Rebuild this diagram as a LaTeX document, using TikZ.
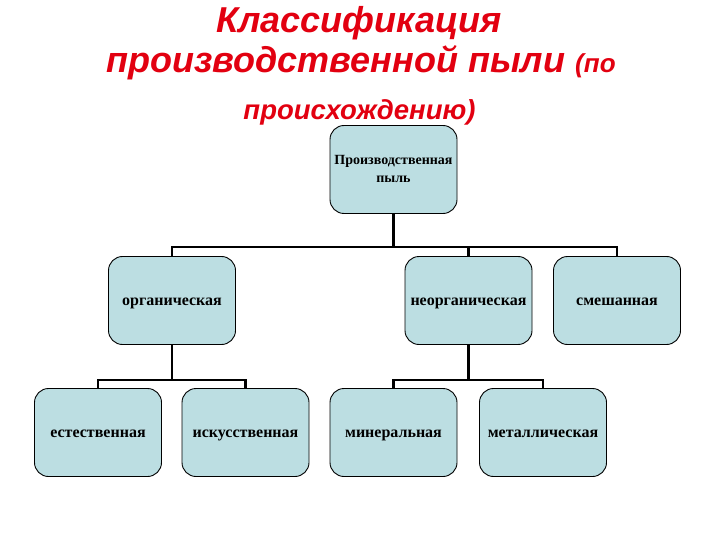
\documentclass[tikz,border=0pt]{standalone}
\usepackage{fontspec}
\setmainfont{Liberation Serif}
\newfontfamily\titlefont{Liberation Sans}
\definecolor{boxfill}{RGB}{188,222,226}
\definecolor{titlered}{RGB}{226,0,16}
\begin{document}
\begin{tikzpicture}[x=1pt,y=-1pt,
  box/.style={draw=black,line width=0.9pt,fill=boxfill,rounded corners=14pt,
    minimum width=127pt,minimum height=88pt,inner sep=0pt,align=center,
    text height=10pt,text depth=1pt,
    font=\bfseries\fontsize{16}{18}\selectfont},
  rootbox/.style={box,text height=,text depth=,
    font=\bfseries\fontsize{14}{18}\selectfont},
  conn/.style={draw=black,line width=2.4pt},
  ttl/.style={anchor=base,inner sep=0pt,text=titlered}]
\useasboundingbox (0,0) rectangle (720,540);
\node[ttl,font=\titlefont\bfseries\itshape\fontsize{36}{40}\selectfont] (t1) at (359,33) {Классификация};
\node[ttl] (t2) at (361,73) {\titlefont\bfseries\itshape\fontsize{36}{40}\selectfont производственной пыли \fontsize{26}{30}\selectfont(по};
\node[ttl,font=\titlefont\bfseries\itshape\fontsize{27.5}{30}\selectfont] (t3) at (359.5,120) {происхождению)};

\node[rootbox] (root) at (393.5,169.5) {\raisebox{-5pt}{\begin{tabular}{@{}c@{}}Производственная\\пыль\end{tabular}}};
\node[box] (org) at (172,300.5) {органическая};
\node[box] (inorg) at (468.5,300.5) {неорганическая};
\node[box] (mix) at (617,300.5) {смешанная};
\node[box] (nat) at (98,432.5) {естественная};
\node[box] (art) at (245.5,432.5) {искусственная};
\node[box] (min) at (393.5,432.5) {минеральная};
\node[box] (met) at (543,432.5) {металлическая};

\coordinate (bar1) at (0,247);
\coordinate (bar2) at (0,380);
\draw[conn] (root.south) -- (root.south |- bar1);
\draw[conn] (org.north) |- (mix.north |- bar1) -- (mix.north);
\draw[conn] (inorg.north) -- (inorg.north |- bar1);
\draw[conn] (org.south) -- (org.south |- bar2);
\draw[conn] (nat.north) |- (art.north |- bar2) -- (art.north);
\draw[conn] (inorg.south) -- (inorg.south |- bar2);
\draw[conn] (min.north) |- (met.north |- bar2) -- (met.north);
\end{tikzpicture}
\end{document}
